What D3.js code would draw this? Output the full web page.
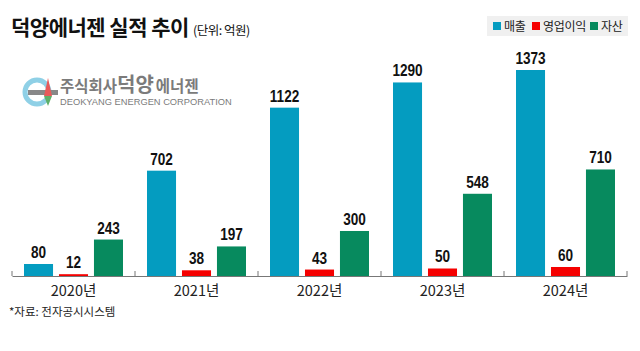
<!DOCTYPE html>
<html>
<head>
<meta charset="utf-8">
<script src="https://cdn.jsdelivr.net/npm/d3@7"></script>
<style>
body { margin: 0; background: #fff; }
svg { display: block; font-family: "Liberation Sans", "Noto Sans CJK KR", sans-serif; }
.val { font-family: "Liberation Sans", sans-serif; font-weight: bold; font-size: 17px; fill: #111; }
</style>
</head>
<body>
<script>
// chart data
var years = ["2020년", "2021년", "2022년", "2023년", "2024년"];
var seriesNames = ["매출", "영업이익", "자산"];
var sales = [80, 702, 1122, 1290, 1373];
var profit = [12, 38, 43, 50, 60];
var assets = [243, 197, 300, 548, 710];
var colors = ["#049cc0", "#f50000", "#078a5e"];

var width = 640, height = 351;
var svg = d3.select("body").append("svg")
    .attr("width", width)
    .attr("height", height);

// title
var title = svg.append("text")
    .attr("x", 11)
    .attr("y", 35)
    .style("font-family", "'Noto Sans CJK KR', sans-serif")
    .style("font-weight", "bold")
    .style("font-size", "21px")
    .style("letter-spacing", "-0.5px")
    .attr("fill", "#111")
    .text("덕양에너젠 실적 추이");
title.append("tspan")
    .attr("dx", 4)
    .style("font-weight", "normal")
    .style("font-size", "12.5px")
    .text("(단위: 억원)");

// legend
svg.append("rect")
    .attr("x", 487).attr("y", 16)
    .attr("width", 141).attr("height", 20)
    .attr("fill", "#f0f0f0");
var legendX = [493, 532, 590];
seriesNames.forEach(function(name, i){
    svg.append("rect")
        .attr("x", legendX[i]).attr("y", 22)
        .attr("width", 8).attr("height", 8)
        .attr("fill", colors[i]);
    svg.append("text")
        .attr("x", legendX[i] + 11).attr("y", 31)
        .style("font-family", "'Noto Sans CJK KR', sans-serif")
        .style("font-size", "12px")
        .style("letter-spacing", "-0.3px")
        .attr("fill", "#222")
        .text(name);
});

// logo
var logo = svg.append("g");
logo.append("circle")
    .attr("cx", 37).attr("cy", 92).attr("r", 12)
    .attr("fill", "none")
    .attr("stroke", "#8fd0e6")
    .attr("stroke-width", 5);
logo.append("rect")
    .attr("x", 28).attr("y", 90).attr("width", 30).attr("height", 5)
    .attr("fill", "#888");
logo.append("path")
    .attr("d", "M48,78 L52,96 L44,96 Z")
    .attr("fill", "#e85a5a");
logo.append("path")
    .attr("d", "M48,106 L52,96 L44,96 Z")
    .attr("fill", "#5fb06a");
var logoKo = logo.append("text")
    .attr("x", 60).attr("y", 92)
    .style("font-family", "'Noto Sans CJK KR', sans-serif")
    .style("font-weight", "bold")
    .attr("fill", "#7b7b7b");
logoKo.append("tspan").style("font-size", "15.5px").text("주식회사");
logoKo.append("tspan").style("font-size", "20px").text("덕양");
logoKo.append("tspan").style("font-size", "15.5px").attr("dx", 2).text("에너젠");
logo.append("text")
    .attr("x", 60).attr("y", 105)
    .style("font-size", "9.3px")
    .attr("fill", "#7b7b7b")
    .text("DEOKYANG ENERGEN CORPORATION");

// scales
var x0 = d3.scaleBand()
    .domain(years)
    .range([12, 627])
    .paddingInner(0)
    .paddingOuter(0);

var x1 = d3.scaleBand()
    .domain(seriesNames)
    .range([12, x0.bandwidth() - 12])
    .paddingInner(0.17);

var y = d3.scaleLinear()
    .domain([0, 1373])
    .range([276, 70]);

var table = years.map(function(yr, i){
    return { year: yr, values: [sales[i], profit[i], assets[i]] };
});

var groups = svg.selectAll(".group")
    .data(table)
    .enter()
    .append("g")
    .attr("class", "group")
    .attr("transform", function(d){ return "translate(" + x0(d.year) + ",0)"; });

groups.selectAll("rect")
    .data(function(d){ return d.values.map(function(v, i){ return { key: seriesNames[i], v: v, i: i }; }); })
    .enter()
    .append("rect")
    .attr("x", function(d){ return x1(d.key); })
    .attr("width", x1.bandwidth())
    .attr("y", function(d){ return y(d.v); })
    .attr("height", function(d){ return y(0) - y(d.v); })
    .attr("fill", function(d){ return colors[d.i]; });

// value labels, squeezed horizontally like a condensed face
groups.selectAll(".val")
    .data(function(d){ return d.values.map(function(v, i){ return { key: seriesNames[i], v: v }; }); })
    .enter()
    .append("text")
    .attr("class", "val")
    .attr("text-anchor", "middle")
    .attr("transform", function(d){
        return "translate(" + (x1(d.key) + x1.bandwidth() / 2) + "," + (y(d.v) - 6) + ") scale(0.8,1)";
    })
    .text(function(d){ return d.v; });

// x axis
var xAxis = d3.axisBottom(x0).tickSize(0).tickPadding(10);
var axisG = svg.append("g")
    .attr("transform", "translate(0,276)")
    .call(xAxis);
axisG.select(".domain").attr("stroke", "#777");
axisG.selectAll("text")
    .style("font-family", "'Noto Sans CJK KR', sans-serif")
    .style("font-size", "14.5px")
    .attr("fill", "#222");

// separators between years
svg.selectAll(".sep")
    .data(years.concat(["end"]))
    .enter()
    .append("line")
    .attr("class", "sep")
    .attr("x1", function(d){ return d === "end" ? 627 : x0(d); })
    .attr("x2", function(d){ return d === "end" ? 627 : x0(d); })
    .attr("y1", 271).attr("y2", 276)
    .attr("stroke", "#777");

// source
svg.append("text")
    .attr("x", 9).attr("y", 316)
    .style("font-family", "'Noto Sans CJK KR', sans-serif")
    .style("font-size", "11.5px")
    .attr("fill", "#222")
    .text("*자료: 전자공시시스템");
</script>
</body>
</html>
